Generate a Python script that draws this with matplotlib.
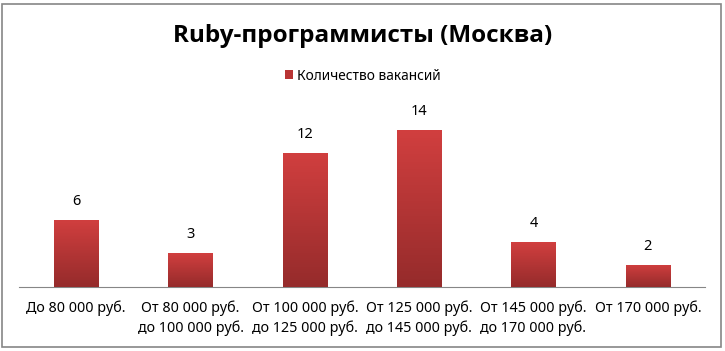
import numpy as np
import matplotlib
matplotlib.use("Agg")
from matplotlib import pyplot as plt
from matplotlib.patches import Rectangle

# данные
categories = ["До 80 000 руб.", "От 80 000 руб.\nдо 100 000 руб.",
              "От 100 000 руб.\nдо 125 000 руб.", "От 125 000 руб.\nдо 145 000 руб.",
              "От 145 000 руб.\nдо 170 000 руб.", "От 170 000 руб."]
vacancies = [6, 3, 12, 14, 4, 2]
title = "Ruby-программисты (Москва)"
series_name = "Количество вакансий"

plt.rcParams['font.family'] = ['Noto Sans', 'DejaVu Sans']

fig = plt.figure(figsize=(7.25, 3.51), dpi=100)
ax = fig.add_axes([19/725, 64/351, 686/725, 179/351])

x = np.arange(len(categories))
bars = ax.bar(x, vacancies, width=0.39, color='#b83434', label=series_name, zorder=2)

# градиент в столбиках
grad = np.linspace(0, 1, 256).reshape(-1, 1)
cmap = matplotlib.colors.LinearSegmentedColormap.from_list('r', ['#952b2b', '#d13f3f'])
for b in bars:
    im = ax.imshow(grad, cmap=cmap, aspect='auto', origin='lower',
                   extent=(b.get_x(), b.get_x() + b.get_width(), 0, b.get_height()), zorder=3)
    im.set_clip_path(b)

for xi, v in zip(x, vacancies):
    ax.annotate(str(v), (xi, v), xytext=(0, 8), textcoords='offset points',
                ha='center', va='bottom', fontsize=10.5)

ax.set_xlim(-0.5, len(categories) - 0.5)
ax.set_ylim(0, 16)
ax.set_xticks(x)
ax.set_xticklabels(categories, fontsize=10.3, linespacing=1.3)
ax.tick_params(axis='x', length=0, pad=10)
ax.set_yticks([])
for s in ['top', 'right', 'left']:
    ax.spines[s].set_visible(False)
ax.spines['bottom'].set_color('#868686')

fig.text(0.5, 0.898, title, ha='center', va='center', fontsize=17.5,
         fontweight='bold', family=['Open Sans', 'DejaVu Sans'])
leg = fig.legend(handles=[bars], labels=[series_name], loc='center',
                 bbox_to_anchor=(0.5, 0.783), frameon=False, fontsize=9.9,
                 handlelength=0.6, handleheight=0.6, handletextpad=0.3)

# рамка
fig.patches.append(Rectangle((2/725, 4/351), 719/725, 343/351, transform=fig.transFigure,
                             fill=False, edgecolor='#868686', lw=1.2))

fig.savefig("out.png", dpi=100)
